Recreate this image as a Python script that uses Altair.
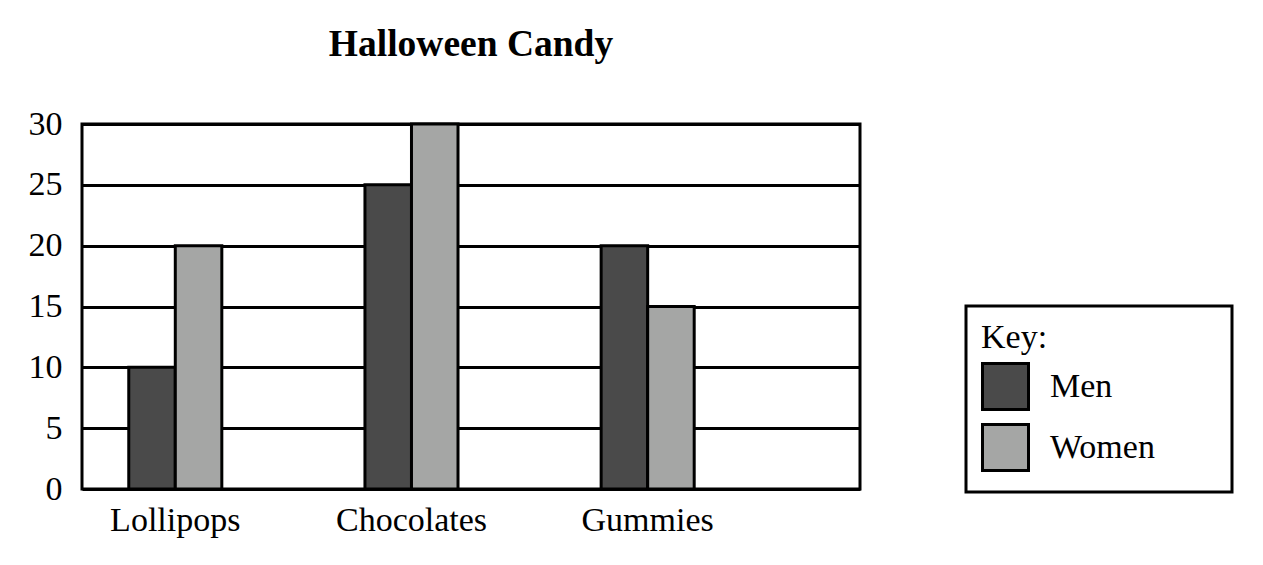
import altair as alt
import pandas as pd

categories = ["Lollipops", "Chocolates", "Gummies"]
series = ["Men", "Women"]
men = [10, 25, 20]
women = [20, 30, 15]
y_ticks = [0, 5, 10, 15, 20, 25, 30]
colors = ["#4a4a4a", "#a5a6a5"]

rows = []
for c, m, w in zip(categories, men, women):
    rows.append({"Candy": c, "Group": "Men", "Count": m})
    rows.append({"Candy": c, "Group": "Women", "Count": w})
df = pd.DataFrame(rows)

FONT = "Liberation Serif"
FS = 34
pad = "\u2800\u00a0\u200a\u2800"

chart = alt.Chart(df).mark_bar(stroke="black", strokeWidth=3, opacity=1).encode(
    x=alt.X(
        "Candy:N", sort=categories, title=None,
        scale=alt.Scale(paddingInner=0.606, paddingOuter=0.45, align=0.22),
        axis=alt.Axis(labelAngle=0, ticks=False, domain=False, labelPadding=14,
                      labelFontSize=FS, labelFont=FONT, labelColor="black"),
    ),
    xOffset=alt.XOffset("Group:N", sort=series,
                        scale=alt.Scale(paddingInner=0, paddingOuter=0)),
    y=alt.Y(
        "Count:Q", title=None, scale=alt.Scale(domain=[0, 30], nice=False),
        axis=alt.Axis(values=y_ticks, ticks=False, domain=False, grid=True,
                      gridColor="black", gridWidth=3, gridOpacity=1,
                      labelPadding=20, labelFontSize=FS, labelFont=FONT,
                      labelColor="black"),
    ),
    color=alt.Color(
        "Group:N", sort=series,
        scale=alt.Scale(domain=series, range=colors),
        legend=alt.Legend(
            title="Key:", orient="none", legendX=884, legendY=182,
            symbolType="square", symbolSize=2116, symbolStrokeColor="black",
            symbolStrokeWidth=3, symbolOpacity=1,
            labelExpr=f"datum.label + '{pad}'", labelLimit=400,
            labelFont=FONT, labelFontSize=FS, labelColor="black", labelOffset=20,
            titleFont=FONT, titleFontSize=FS, titleFontWeight="normal",
            titleColor="black", titlePadding=7, rowPadding=2,
        ),
    ),
).properties(
    width=778, height=365,
    title=alt.TitleParams("Halloween Candy", font=FONT, fontSize=37.5,
                          fontWeight="bold", anchor="middle", frame="group",
                          baseline="alphabetic", offset=14, color="black"),
    autosize=alt.AutoSizeParams(type="none"),
    padding={"left": 74, "top": 116, "right": 390, "bottom": 60},
).configure_view(
    stroke="black", strokeWidth=3
).configure_legend(
    strokeColor="black", strokeWidth=3, padding=15
)

chart.save("out.html", embed_options={"renderer": "svg", "actions": False})
